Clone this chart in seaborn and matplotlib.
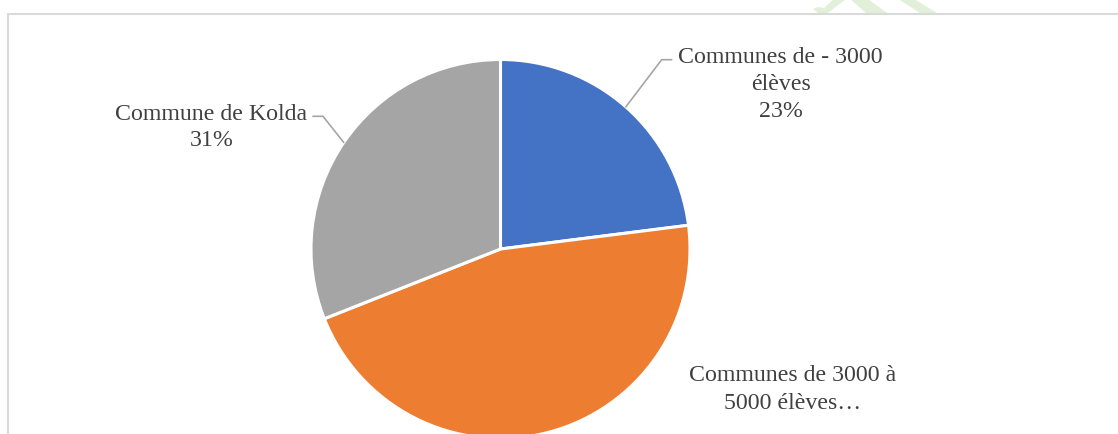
import numpy as np
import matplotlib
matplotlib.use("Agg")
import matplotlib.pyplot as plt
from matplotlib.patches import Polygon
import seaborn as sns

# ---- data ----
categories = ["Communes de - 3000 élèves", "Communes de 3000 à 5000 élèves…", "Commune de Kolda"]
values = [23, 46, 31]
colors = ["#4472C4", "#ED7D31", "#A5A5A5"]
label_lines = [["Communes de - 3000", "élèves", "23%"],
               ["Communes de 3000 à", "5000 élèves…"],
               ["Commune de Kolda", "31%"]]

sns.set_theme(style="white")
plt.rcParams['font.family'] = ['Liberation Serif', 'DejaVu Serif']

W, H = 1118, 435
fig = plt.figure(figsize=(W / 100, H / 100), dpi=100)
ax = fig.add_axes([0, 0, 1, 1])

def P(x, y):
    return (x, H - y)

cx, cy = P(500.5, 250)
R = 189.5
wedges, _ = ax.pie(values, colors=colors, startangle=90, counterclock=False,
                   radius=R, center=(cx, cy), frame=True,
                   wedgeprops=dict(edgecolor="white", linewidth=2.2))
ax.set_xlim(0, W)
ax.set_ylim(0, H)
ax.set_aspect("auto")
ax.axis("off")

# watermark hint (light green, above the frame line)
wm = "#E2EFD9"
shapes = [
    [(813, 10), (818, 14), (828, 14), (846, 0), (834, 0), (824, 9), (818, 8)],
    [(850, 0), (868, 0), (887, 14), (866, 14)],
    [(898, 0), (914, 0), (937, 14), (920, 14)],
]
for pts in shapes:
    ax.add_patch(Polygon([P(x, y) for x, y in pts], closed=True,
                         facecolor=wm, edgecolor="none", zorder=0))

# frame
fc = "#D9D9D9"
ax.plot([8, W + 5], [H - 14.5, H - 14.5], color=fc, lw=1.5, zorder=5)
ax.plot([8, 8], [H - 14.5, -5], color=fc, lw=1.5, zorder=5)

tc = "#404040"
fs = 17.2
# label positions: (center x, baselines)
label_pos = [(780.5, [63, 90, 117]), (793, [381.5, 409]), (211.5, [119.5, 146])]
for lines, (lx, bls) in zip(label_lines, label_pos):
    for t, b in zip(lines, bls):
        ax.text(*P(lx, b), t, ha="center", va="baseline", fontsize=fs, color=tc)

# leader lines from wedge mid-angle edge to label
lc = "#A6A6A6"
leaders = {0: [(671.7, 60.7), (661.7, 60.7)], 2: [(313, 117.3), (323, 117.3)]}
for i, pts in leaders.items():
    w = wedges[i]
    mid = np.deg2rad((w.theta1 + w.theta2) / 2)
    ex, ey = cx + R * np.cos(mid), cy + R * np.sin(mid)
    (ax1, ay1), (ax2, ay2) = pts
    if i == 0:
        xs = [ex, ax2, ax1]
        ys = [ey, H - ay2, H - ay1]
    else:
        xs = [ax1, ax2, ex]
        ys = [H - ay1, H - ay2, ey]
    ax.plot(xs, ys, color=lc, lw=1.2, zorder=4)

fig.savefig("out.png", dpi=100)
